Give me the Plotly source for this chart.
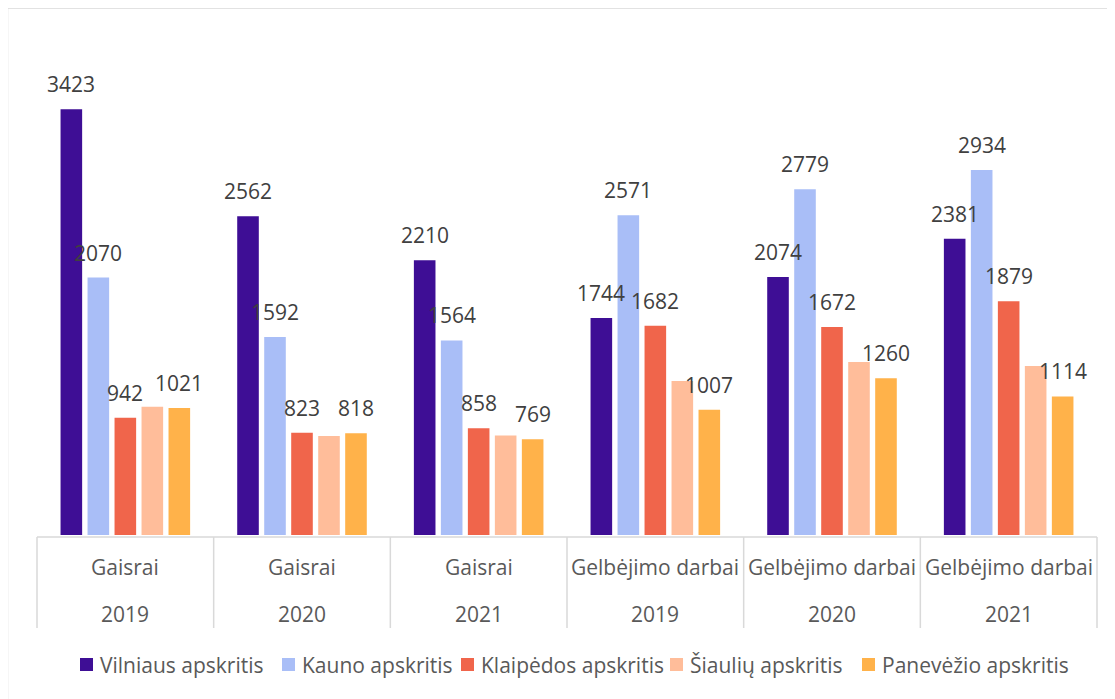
import plotly.graph_objects as go

# ---------------- data ----------------
types = ["Gaisrai", "Gaisrai", "Gaisrai", "Gelbėjimo darbai", "Gelbėjimo darbai", "Gelbėjimo darbai"]
years = ["2019", "2020", "2021", "2019", "2020", "2021"]
series_names = ["Vilniaus apskritis", "Kauno apskritis", "Klaipėdos apskritis",
                "Šiaulių apskritis", "Panevėžio apskritis"]
vilnius = [3423, 2562, 2210, 1744, 2074, 2381]
kaunas = [2070, 1592, 1564, 2571, 2779, 2934]
klaipeda = [942, 823, 858, 1682, 1672, 1879]
siauliai = [1032, 795, 800, 1238, 1391, 1359]
panevezys = [1021, 818, 769, 1007, 1260, 1114]
label_shown = [True, True, True, False, True]

series_values = [vilnius, kaunas, klaipeda, siauliai, panevezys]
colors = ["#3E0E95", "#A9BEF7", "#F0654B", "#FFBD9A", "#FFB24A"]

# ---------------- layout constants ----------------
W, H = 1115, 699
PAGE_OFF = 8  # default body margin of the html page
ML, MT = 29, 29
PW, PH = 1060, 498
MR, MB = W - ML - PW, H - MT - PH
Y_MAX = 4004
BARGAP, BARGROUPGAP = 0.236, 0.2
FONT = "Open Sans"
AXIS_COLOR = "#595959"
LABEL_COLOR = "#404040"
LINE_COLOR = "#D9D9D9"


def px_x(page_px):
    return (page_px - PAGE_OFF - ML) / PW


def px_y(page_py):
    return (MT + PH - (page_py - PAGE_OFF)) / PH


cats = [f"{t} {y}" for t, y in zip(types, years)]
n_groups = len(cats)
n_series = len(series_names)

fig = go.Figure()
for name, vals, col in zip(series_names, series_values, colors):
    fig.add_trace(go.Bar(name=name, x=cats, y=vals, marker=dict(color=col, line=dict(width=0)),
                         showlegend=False, hoverinfo="x+y+name"))

annotations = []
shapes = []

# data labels
group_px = PW / n_groups
pitch_px = (1 - BARGAP) * group_px / n_series
for k, (vals, show) in enumerate(zip(series_values, label_shown)):
    if not show:
        continue
    for i, v in enumerate(vals):
        annotations.append(dict(x=cats[i], y=v, xref="x", yref="y", text=str(v), showarrow=False,
                                xshift=(k - (n_series - 1) / 2) * pitch_px, yshift=9,
                                yanchor="bottom", xanchor="center",
                                font=dict(family=FONT, size=21, color=LABEL_COLOR)))

# category axis: two label rows + box lines
for i in range(n_groups):
    annotations.append(dict(x=cats[i], y=px_y(567), xref="x", yref="paper", text=types[i],
                            showarrow=False, yanchor="middle",
                            font=dict(family=FONT, size=21, color=AXIS_COLOR)))
    annotations.append(dict(x=cats[i], y=px_y(614), xref="x", yref="paper", text=years[i],
                            showarrow=False, yanchor="middle",
                            font=dict(family=FONT, size=21, color=AXIS_COLOR)))

shapes.append(dict(type="line", xref="paper", yref="paper", x0=0, x1=1, y0=px_y(537), y1=px_y(537),
                   line=dict(color=LINE_COLOR, width=1.5)))
for i in range(n_groups + 1):
    xp = i / n_groups
    shapes.append(dict(type="line", xref="paper", yref="paper", x0=xp, x1=xp,
                       y0=px_y(537), y1=px_y(628), line=dict(color=LINE_COLOR, width=1.5)))

# legend (drawn manually to match reference spacing)
legend_px = [80, 282, 461, 670, 862]
for name, col, lx in zip(series_names, colors, legend_px):
    shapes.append(dict(type="rect", xref="paper", yref="paper",
                       x0=px_x(lx), x1=px_x(lx + 13), y0=px_y(658), y1=px_y(671),
                       fillcolor=col, line=dict(width=0)))
    annotations.append(dict(x=px_x(lx + 18), y=px_y(665), xref="paper", yref="paper", text=name,
                            showarrow=False, xanchor="left", yanchor="middle",
                            font=dict(family=FONT, size=21, color=AXIS_COLOR)))

# chart-area border
shapes.append(dict(type="rect", xref="paper", yref="paper", x0=px_x(7.5), x1=px_x(1130),
                   y0=px_y(715), y1=px_y(8), line=dict(color=LINE_COLOR, width=1.5),
                   fillcolor="rgba(0,0,0,0)"))

fig.update_layout(
    width=W, height=H,
    margin=dict(l=ML, r=MR, t=MT, b=MB, pad=0),
    barmode="group", bargap=BARGAP, bargroupgap=BARGROUPGAP,
    paper_bgcolor="white", plot_bgcolor="white",
    showlegend=False,
    annotations=annotations, shapes=shapes,
    font=dict(family=FONT, size=21, color=AXIS_COLOR),
)
fig.update_xaxes(type="category", showticklabels=False, showgrid=False, zeroline=False,
                 showline=False, ticks="", range=[-0.5, n_groups - 0.5])
fig.update_yaxes(range=[0, Y_MAX], showticklabels=False, showgrid=False, zeroline=False,
                 showline=False, ticks="")

fig.write_html("out.html")
